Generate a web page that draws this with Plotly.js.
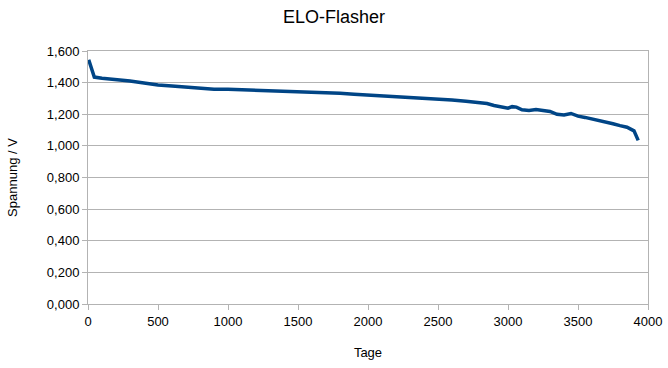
<!DOCTYPE html>
<html>
<head>
<meta charset="utf-8">
<script src="https://cdn.plot.ly/plotly-3.0.1.min.js"></script>
<style>html,body{margin:0;padding:0;background:#fff}#chart{width:668px;height:368px}</style>
</head>
<body>
<div id="chart"></div>
<script>
var days = [5, 45, 100, 200, 300, 400, 500, 600, 700, 800, 900, 1000, 1100, 1200, 1300, 1400, 1500, 1600, 1700, 1800, 1900, 2000, 2100, 2200, 2300, 2400, 2500, 2600, 2700, 2750, 2800, 2850, 2900, 2950, 3000, 3030, 3060, 3100, 3150, 3200, 3250, 3300, 3350, 3400, 3450, 3500, 3550, 3600, 3650, 3700, 3750, 3800, 3850, 3900, 3930];
var volts = [1.545, 1.435, 1.428, 1.420, 1.410, 1.398, 1.385, 1.378, 1.370, 1.362, 1.358, 1.358, 1.355, 1.352, 1.350, 1.348, 1.345, 1.340, 1.338, 1.333, 1.327, 1.322, 1.318, 1.310, 1.305, 1.300, 1.298, 1.290, 1.282, 1.276, 1.270, 1.268, 1.255, 1.248, 1.238, 1.248, 1.245, 1.228, 1.224, 1.230, 1.222, 1.218, 1.200, 1.195, 1.205, 1.188, 1.180, 1.170, 1.165, 1.155, 1.140, 1.128, 1.118, 1.095, 1.035];

var grid = '#b3b3b3';
var data = [{
  x: days, y: volts, type: 'scatter', mode: 'lines',
  line: {color: '#004586', width: 3.5},
  hoverinfo: 'x+y'
}];
var layout = {
  width: 668, height: 368,
  margin: {l: 88, r: 20, t: 51, b: 64},
  paper_bgcolor: '#fff', plot_bgcolor: '#fff',
  separators: ',.',
  font: {family: 'Liberation Sans, Arial, sans-serif', size: 13, color: '#000'},
  title: {text: 'ELO-Flasher', font: {size: 18}, x: 0.5, xanchor: 'center', y: 0.955, yanchor: 'middle'},
  showlegend: false,
  xaxis: {
    range: [0, 4000], tickvals: [0, 500, 1000, 1500, 2000, 2500, 3000, 3500, 4000],
    showgrid: false, zeroline: false,
    showline: true, mirror: true, linecolor: grid, linewidth: 1,
    ticks: 'outside', ticklen: 5, tickcolor: grid,
    title: {text: 'Tage', font: {size: 13}, standoff: 20}
  },
  yaxis: {
    range: [0, 1.6], tickvals: [0, 0.2, 0.4, 0.6, 0.8, 1.0, 1.2, 1.4, 1.6],
    tickformat: '.3f',
    showgrid: true, gridcolor: grid, zeroline: false,
    showline: true, mirror: true, linecolor: grid, linewidth: 1,
    ticks: 'outside', ticklen: 5, tickcolor: grid,
    title: {text: 'Spannung / V', font: {size: 13}, standoff: 26}
  }
};
Plotly.newPlot('chart', data, layout, {displayModeBar: false, staticPlot: true});
</script>
</body>
</html>
